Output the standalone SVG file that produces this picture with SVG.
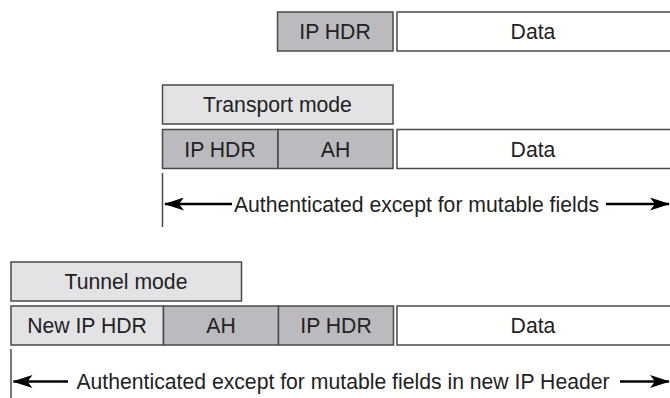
<svg xmlns="http://www.w3.org/2000/svg" width="670" height="398" viewBox="0 0 670 398">
  <style>
    .box { stroke: #4a4a4a; stroke-width: 1.5; }
    .hdr { fill: #bbbbbf; }
    .lite { fill: #e3e3e5; }
    .data { fill: #ffffff; }
    .lbl { font-family: "Liberation Sans", Arial, sans-serif; font-size: 21.2px; fill: #222222; text-anchor: middle; }
    .span { stroke: #000000; stroke-width: 2.5; fill: none; marker-end: url(#head); }
    .tick { stroke: #4a4a4a; stroke-width: 1.5; }
  </style>
  <defs>
    <marker id="head" viewBox="0 0 20 13" refX="19" refY="6.5" markerWidth="20" markerHeight="13" markerUnits="userSpaceOnUse" orient="auto">
      <path d="M0,0 L20,6.5 L0,13 L5,6.5 Z" fill="#000000"/>
    </marker>
  </defs>
  <rect width="670" height="398" fill="#ffffff"/>

  <!-- original packet -->
  <g id="orig-iphdr">
    <rect class="box hdr" x="277.5" y="12" width="115.5" height="39"/>
    <text class="lbl" x="335" y="39">IP HDR</text>
  </g>
  <g id="orig-data">
    <rect class="box data" x="397" y="12" width="280" height="39"/>
    <text class="lbl" x="533" y="39">Data</text>
  </g>

  <!-- transport mode -->
  <g id="transport-title">
    <rect class="box lite" x="162.5" y="85" width="230.5" height="39"/>
    <text class="lbl" x="277.5" y="112">Transport mode</text>
  </g>
  <g id="transport-iphdr">
    <rect class="box hdr" x="162.5" y="129.5" width="115.5" height="39"/>
    <text class="lbl" x="220" y="156.5">IP HDR</text>
  </g>
  <g id="transport-ah">
    <rect class="box hdr" x="278" y="129.5" width="115" height="39"/>
    <text class="lbl" x="335.5" y="156.5">AH</text>
  </g>
  <g id="transport-data">
    <rect class="box data" x="397" y="129.5" width="280" height="39"/>
    <text class="lbl" x="533" y="156.5">Data</text>
  </g>
  <g id="transport-span">
    <text class="lbl" x="416.5" y="211.8">Authenticated except for mutable fields</text>
  </g>

  <!-- tunnel mode -->
  <g id="tunnel-title">
    <rect class="box lite" x="11" y="262" width="230.5" height="39"/>
    <text class="lbl" x="126" y="289">Tunnel mode</text>
  </g>
  <g id="tunnel-newiphdr">
    <rect class="box lite" x="11" y="306" width="152.5" height="39"/>
    <text class="lbl" x="87" y="333">New IP HDR</text>
  </g>
  <g id="tunnel-ah">
    <rect class="box hdr" x="163.5" y="306" width="115" height="39"/>
    <text class="lbl" x="221" y="333">AH</text>
  </g>
  <g id="tunnel-iphdr">
    <rect class="box hdr" x="278.5" y="306" width="115" height="39"/>
    <text class="lbl" x="336" y="333">IP HDR</text>
  </g>
  <g id="tunnel-data">
    <rect class="box data" x="397" y="306" width="280" height="39"/>
    <text class="lbl" x="533" y="333">Data</text>
  </g>
  <g id="tunnel-span">
    <text class="lbl" x="343" y="389.3">Authenticated except for mutable fields in new IP Header</text>
  </g>

  <!-- extent arrows and boundary ticks -->
  <g id="connectors">
    <line class="tick" x1="162.5" y1="173" x2="162.5" y2="227"/>
    <line class="span" x1="232" y1="204" x2="165" y2="204"/>
    <line class="span" x1="606" y1="204" x2="669" y2="204"/>
    <line class="tick" x1="11" y1="349" x2="11" y2="398"/>
    <line class="span" x1="68" y1="381.5" x2="13.5" y2="381.5"/>
    <line class="span" x1="620" y1="381.5" x2="669" y2="381.5"/>
  </g>
</svg>
